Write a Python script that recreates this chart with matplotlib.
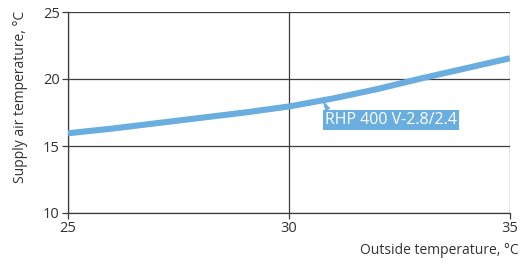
import matplotlib.pyplot as plt

plt.rcParams['font.family'] = ['Open Sans', 'DejaVu Sans']

# Dış hava sıcaklığı ve besleme havası sıcaklığı
outside_t = [25, 26, 27, 28, 29, 30, 31, 32, 33, 34, 35]
supply_t = [15.95, 16.3, 16.7, 17.1, 17.5, 17.95, 18.55, 19.25, 20.05, 20.8, 21.55]
x_ticks = [25, 30, 35]
y_ticks = [10, 15, 20, 25]
series_name = "RHP 400 V-2.8/2.4"

line_col = '#6aaedf'
grid_col = '#3c3c3c'
text_col = '#333333'

fig = plt.figure(figsize=(5.23, 2.61), dpi=100)
ax = fig.add_axes([68 / 523, 1 - 213 / 261, (510 - 68) / 523, (213 - 12) / 261])

ax.plot(outside_t, supply_t, color=line_col, lw=4.4, solid_capstyle='butt',
        solid_joinstyle='round', zorder=3)

ax.set_xlim(25, 35)
ax.set_ylim(10, 25)
ax.set_xticks(x_ticks)
ax.set_yticks(y_ticks)
ax.grid(True, color=grid_col, lw=0.9)
for s in ['top', 'right']:
    ax.spines[s].set_visible(False)
for s in ['left', 'bottom']:
    ax.spines[s].set_color(grid_col)
    ax.spines[s].set_linewidth(0.9)
ax.tick_params(colors=grid_col, labelcolor=text_col, labelsize=10.5, length=4, width=0.9)
ax.xaxis.set_tick_params(pad=2)
ax.yaxis.set_tick_params(pad=2)

ax.set_ylabel("Supply air temperature, °C", color=text_col, fontsize=10)
ax.yaxis.set_label_coords(-0.09, 0.575)
ax.set_xlabel("Outside temperature, °C", color=text_col, fontsize=10, ha='right')
ax.xaxis.set_label_coords(1.02, -0.15)

# etiket ve işaretçi
x0 = 30.75
y0 = 18.45
ax.annotate(series_name, xy=(x0, y0), xytext=(x0 + 0.07, 16.95),
            color='white', fontsize=11.5, va='center', ha='left',
            bbox=dict(boxstyle='square,pad=0.13', fc=line_col, ec='none'),
            arrowprops=dict(arrowstyle='wedge,tail_width=0.35', color=line_col, lw=0,
                            shrinkA=0, shrinkB=0, relpos=(0.03, 1.0)),
            zorder=4)

fig.savefig('out.png', dpi=100)
